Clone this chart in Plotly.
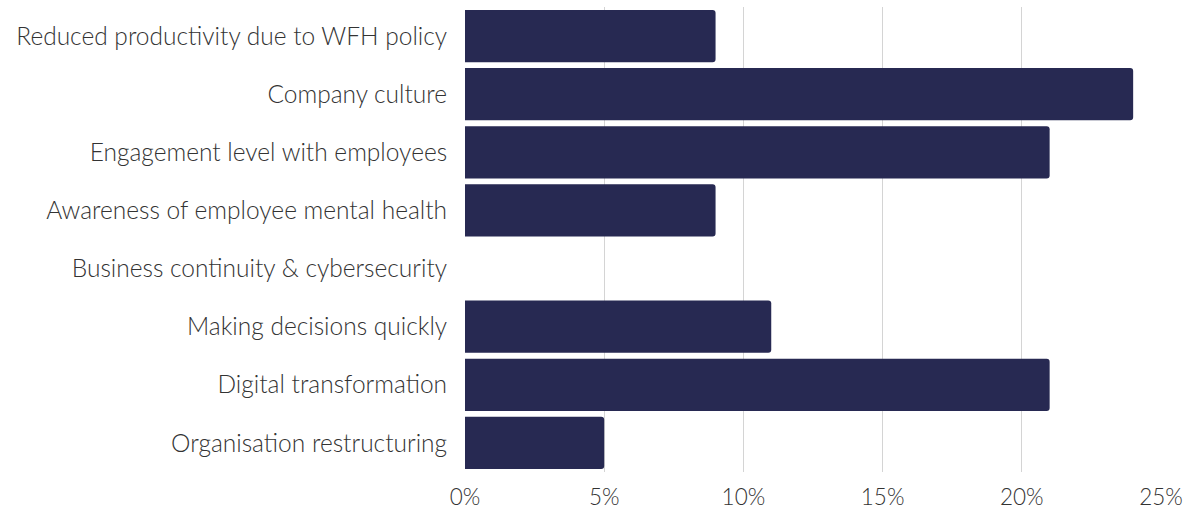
import plotly.graph_objects as go

categories = [
    "Reduced productivity due to WFH policy",
    "Company culture",
    "Engagement level with employees",
    "Awareness of employee mental health",
    "Business continuity & cybersecurity",
    "Making decisions quickly",
    "Digital transformation",
    "Organisation restructuring",
]
shares = [9, 24, 21, 9, 0, 11, 21, 5]  # percent of respondents
x_ticks = [0, 5, 10, 15, 20, 25]
x_tick_labels = ["0%", "5%", "10%", "15%", "20%", "25%"]

bar_color = "#272952"
text_color = "#333333"
font_family = "Source Sans Pro, Lato, Open Sans, sans-serif"
y_label_font = dict(family=font_family, size=24.5, color=text_color, weight=300)
x_label_font = dict(family=font_family, size=22.5, color=text_color, weight=300)

fig = go.Figure(
    go.Bar(
        x=shares,
        y=categories,
        orientation="h",
        marker=dict(color=bar_color, line=dict(width=0)),
        hoverinfo="x+y",
    )
)

fig.update_layout(
    width=1200,
    height=513,
    margin=dict(l=465, r=39, t=7, b=41, autoexpand=False),
    paper_bgcolor="white",
    plot_bgcolor="white",
    bargap=0.1,
    barcornerradius=3,
    showlegend=False,
    font=y_label_font,
)

fig.update_xaxes(
    range=[0, 25],
    tickvals=x_ticks,
    ticktext=x_tick_labels,
    showgrid=True,
    gridcolor="#d4d4d4",
    gridwidth=1,
    zeroline=False,
    showline=False,
    ticks="outside",
    ticklen=5,
    tickcolor="rgba(0,0,0,0)",
    tickfont=x_label_font,
    automargin=False,
)

fig.update_yaxes(
    categoryorder="array",
    categoryarray=categories[::-1],
    showgrid=False,
    zeroline=False,
    showline=False,
    ticks="outside",
    ticklen=12,
    tickcolor="rgba(0,0,0,0)",
    tickfont=y_label_font,
    automargin=False,
)

fig.write_html("out.html")
